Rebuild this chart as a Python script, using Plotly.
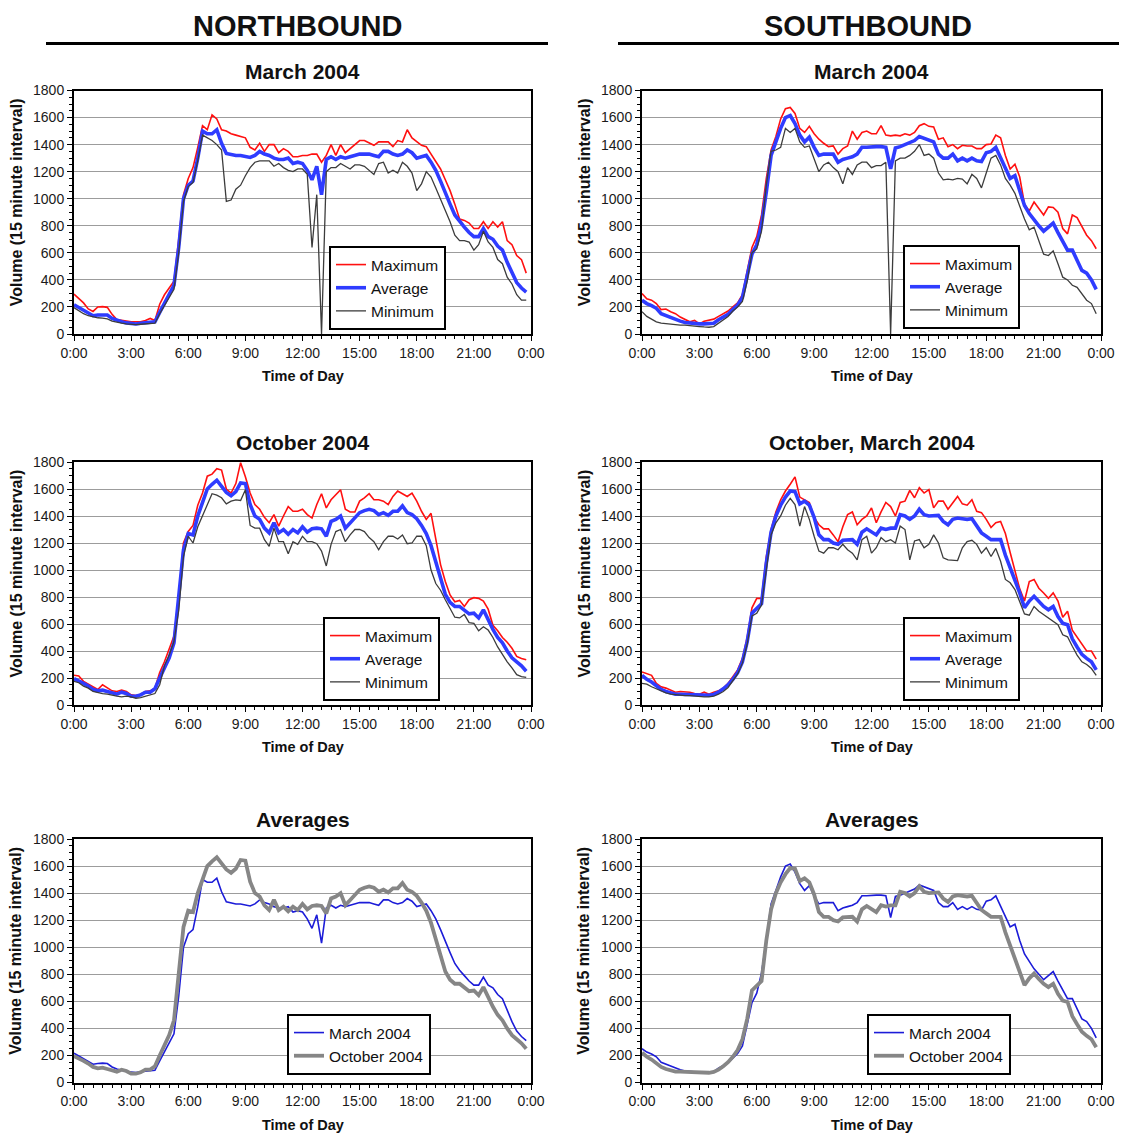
import plotly.graph_objects as go

# ---------------- data (15-minute intervals, 0:00 .. 23:45) ----------------
TIME_LABELS = ["%d:%02d" % (i // 4, (i % 4) * 15) for i in range(96)]
HOURS = [i * 0.25 for i in range(96)]

X_TICK_VALS = [0, 3, 6, 9, 12, 15, 18, 21, 24]
X_TICK_TEXT = ["0:00", "3:00", "6:00", "9:00", "12:00", "15:00", "18:00", "21:00", "0:00"]
Y_TICK_VALS = [0, 200, 400, 600, 800, 1000, 1200, 1400, 1600, 1800]

NB_MAR_MAX = [295, 265, 230, 185, 167, 200, 202, 197, 145, 106, 100, 98, 90, 90, 90, 100,
              115, 100, 220, 290, 340, 390, 700, 1030, 1150, 1230, 1380, 1540, 1510, 1620, 1590, 1510,
              1500, 1480, 1470, 1460, 1450, 1380, 1360, 1410, 1350, 1400, 1400, 1340, 1370, 1350, 1310, 1310,
              1320, 1320, 1330, 1330, 1270, 1320, 1400, 1320, 1400, 1340, 1370, 1400, 1430, 1430, 1410, 1395,
              1420, 1420, 1420, 1385, 1430, 1420, 1510, 1450, 1420, 1395, 1385, 1330, 1270, 1220, 1140, 1060,
              960, 850, 840, 820, 780, 780, 830, 780, 830, 790, 830, 690, 660, 580, 550, 450]
NB_MAR_AVG = [216, 195, 175, 155, 135, 140, 143, 140, 115, 100, 90, 82, 78, 74, 80, 85,
              90, 90, 160, 230, 300, 360, 640, 1000, 1100, 1130, 1300, 1500, 1480, 1480, 1510, 1410,
              1335, 1325, 1320, 1320, 1315, 1305, 1320, 1350, 1330, 1320, 1300, 1290, 1290, 1300, 1260, 1270,
              1260, 1210, 1140, 1240, 1030, 1290, 1310, 1290, 1310, 1300, 1310, 1320, 1330, 1330, 1330, 1320,
              1310, 1350, 1350, 1330, 1320, 1330, 1360, 1340, 1300, 1310, 1320, 1270, 1210, 1130, 1040, 960,
              880, 830, 790, 750, 720, 720, 780, 720, 700, 650, 620, 530, 450, 380, 340, 310]
NB_MAR_MIN = [195, 170, 150, 135, 125, 120, 118, 112, 95, 85, 80, 75, 70, 70, 72, 74,
              75, 80, 150, 215, 270, 330, 600, 980, 1090, 1120, 1280, 1470, 1450, 1430, 1400, 1360,
              980, 990, 1070, 1100, 1170, 1230, 1270, 1280, 1280, 1280, 1240, 1260, 1230, 1210, 1200, 1220,
              1220, 1180, 640, 1030, 0, 1200, 1230, 1230, 1260, 1240, 1220, 1250, 1250, 1240, 1210, 1180,
              1260, 1270, 1190, 1210, 1190, 1270, 1240, 1190, 1060, 1110, 1200, 1160, 1080, 1000, 920, 830,
              730, 690, 690, 680, 620, 660, 760, 680, 640, 550, 520, 420, 370, 290, 250, 250]

SB_MAR_MAX = [300, 260, 250, 225, 180, 185, 165, 150, 125, 105, 90, 100, 75, 95, 100, 110,
              130, 150, 170, 200, 230, 290, 470, 640, 720, 880, 1150, 1360, 1460, 1590, 1665, 1675,
              1630, 1520, 1490, 1535, 1480, 1440, 1410, 1385, 1390, 1330, 1370, 1390, 1500, 1440, 1490, 1500,
              1480, 1480, 1540, 1470, 1465, 1470, 1465, 1480, 1470, 1490, 1540, 1555, 1535, 1530, 1440, 1450,
              1385, 1400, 1370, 1395, 1390, 1390, 1370, 1370, 1400, 1405, 1470, 1450, 1320, 1220, 1255, 1160,
              960, 910, 975, 925, 880, 940, 935, 900, 780, 740, 880, 860, 790, 730, 690, 630]
SB_MAR_AVG = [250, 225, 210, 190, 150, 135, 120, 110, 95, 85, 80, 80, 75, 75, 75, 80,
              105, 125, 145, 180, 215, 270, 420, 590, 660, 810, 1050, 1320, 1420, 1520, 1600, 1615,
              1555, 1470, 1420, 1455, 1380, 1320, 1330, 1330, 1330, 1270, 1290, 1300, 1310, 1330, 1380, 1380,
              1385, 1385, 1385, 1380, 1220, 1375, 1385, 1400, 1410, 1430, 1460, 1445, 1430, 1420, 1330, 1300,
              1300, 1330, 1280, 1300, 1280, 1300, 1280, 1275, 1340, 1350, 1380, 1300, 1230, 1150, 1170, 1050,
              950, 890, 840, 800, 760, 790, 820, 750, 690, 620, 620, 540, 470, 450, 400, 330]
SB_MAR_MIN = [165, 130, 110, 90, 80, 75, 75, 70, 65, 65, 60, 60, 55, 52, 50, 55,
              80, 100, 130, 170, 200, 240, 390, 600, 630, 760, 1100, 1350, 1360, 1380, 1520, 1490,
              1520, 1420, 1380, 1390, 1300, 1200, 1250, 1270, 1230, 1200, 1110, 1230, 1180, 1250, 1270, 1270,
              1230, 1245, 1245, 1270, 0, 1280, 1300, 1300, 1320, 1350, 1400, 1320, 1330, 1300, 1190, 1140,
              1145, 1140, 1150, 1145, 1110, 1180, 1150, 1080, 1190, 1300, 1320, 1250, 1150, 1100, 1040, 940,
              850, 770, 790, 690, 590, 580, 615, 520, 420, 400, 360, 345, 300, 250, 225, 150]

NB_OCT_MAX = [220, 215, 175, 155, 130, 115, 150, 130, 105, 100, 110, 100, 75, 70, 80, 100,
              105, 125, 240, 320, 420, 510, 800, 1200, 1285, 1330, 1480, 1570, 1695, 1710, 1750, 1740,
              1600, 1570, 1640, 1795, 1690, 1570, 1485, 1450, 1390, 1350, 1410, 1325, 1400, 1470, 1435, 1435,
              1450, 1410, 1385, 1485, 1565, 1460, 1520, 1555, 1595, 1450, 1430, 1430, 1510, 1535, 1565, 1520,
              1520, 1510, 1485, 1545, 1585, 1565, 1545, 1570, 1510, 1435, 1375, 1420, 1240, 1040, 915, 815,
              765, 775, 730, 780, 795, 790, 770, 710, 590, 550, 500, 465, 420, 360, 345, 335]
NB_OCT_AVG = [195, 180, 160, 140, 115, 105, 110, 100, 90, 80, 95, 85, 65, 65, 75, 95,
              95, 120, 200, 280, 350, 460, 800, 1150, 1270, 1260, 1400, 1500, 1600, 1635, 1665, 1620,
              1575, 1550, 1580, 1645, 1640, 1485, 1400, 1375, 1310, 1275, 1350, 1275, 1300, 1265, 1300, 1275,
              1320, 1280, 1305, 1310, 1305, 1250, 1360, 1375, 1400, 1310, 1350, 1385, 1425, 1440, 1450, 1440,
              1410, 1425, 1405, 1435, 1435, 1475, 1425, 1410, 1380, 1330, 1270, 1180, 1060, 930, 820, 760,
              730, 730, 705, 675, 680, 645, 705, 630, 560, 500, 460, 400, 350, 320, 290, 250]
NB_OCT_MIN = [175, 165, 140, 125, 100, 90, 85, 80, 70, 65, 60, 65, 60, 50, 55, 65,
              80, 85, 150, 290, 370, 470, 700, 1100, 1250, 1200, 1320, 1400, 1485, 1565, 1555, 1535,
              1490, 1510, 1520, 1515, 1595, 1330, 1310, 1310, 1225, 1175, 1310, 1210, 1210, 1120, 1210, 1190,
              1250, 1210, 1210, 1195, 1140, 1030, 1190, 1285, 1300, 1210, 1260, 1300, 1300, 1285, 1240, 1210,
              1150, 1210, 1250, 1250, 1230, 1260, 1195, 1200, 1250, 1250, 1180, 1000, 900, 850, 780, 720,
              650, 645, 670, 610, 605, 550, 580, 555, 500, 430, 370, 320, 275, 225, 210, 205]

SB_OCT_MAX = [245, 235, 220, 160, 135, 125, 110, 95, 100, 100, 95, 85, 80, 95, 80, 95,
              105, 125, 160, 210, 260, 345, 500, 720, 790, 790, 1100, 1300, 1430, 1520, 1585, 1635,
              1690, 1540, 1520, 1500, 1390, 1335, 1305, 1305, 1260, 1210, 1320, 1410, 1430, 1335, 1375, 1400,
              1460, 1350, 1430, 1500, 1470, 1400, 1500, 1510, 1590, 1535, 1610, 1570, 1595, 1460, 1510, 1510,
              1450, 1500, 1545, 1490, 1480, 1520, 1435, 1425, 1375, 1315, 1350, 1360, 1270, 1130, 990, 860,
              770, 915, 930, 865, 830, 790, 830, 770, 650, 695, 555, 505, 450, 400, 400, 340]
SB_OCT_AVG = [220, 190, 170, 140, 115, 100, 90, 80, 80, 78, 75, 75, 70, 70, 72, 78,
              95, 120, 150, 190, 240, 320, 470, 680, 720, 750, 1050, 1280, 1400, 1480, 1540, 1585,
              1580, 1490, 1510, 1480, 1390, 1260, 1225, 1225, 1200, 1190, 1220, 1225, 1225, 1190, 1280, 1305,
              1285, 1260, 1310, 1300, 1310, 1310, 1410, 1400, 1375, 1400, 1450, 1410, 1400, 1400, 1405, 1360,
              1335, 1375, 1385, 1380, 1375, 1380, 1325, 1275, 1250, 1225, 1225, 1225, 1110, 1015, 930, 830,
              720, 770, 805, 765, 730, 705, 730, 655, 605, 595, 490, 430, 375, 345, 320, 260]
SB_OCT_MIN = [160, 155, 135, 120, 100, 90, 80, 75, 72, 70, 70, 65, 62, 60, 60, 65,
              80, 100, 130, 180, 230, 310, 450, 660, 680, 740, 1000, 1260, 1350, 1400, 1480, 1530,
              1485, 1325, 1470, 1375, 1250, 1140, 1125, 1165, 1165, 1150, 1190, 1150, 1125, 1075, 1225, 1250,
              1125, 1165, 1240, 1210, 1225, 1200, 1325, 1300, 1075, 1215, 1225, 1165, 1190, 1260, 1200, 1090,
              1075, 1075, 1070, 1165, 1210, 1220, 1190, 1125, 1165, 1100, 1160, 1065, 930, 905, 855, 765,
              675, 665, 730, 695, 670, 645, 620, 595, 520, 505, 435, 370, 320, 300, 270, 220]

# ---------------- styling ----------------
FONT = "Liberation Sans, Arial, Helvetica, sans-serif"
PAGE_W, PAGE_H = 1127, 1139
BODY_MARGIN = 8                      # default page margin around the plot div
W, H = PAGE_W - BODY_MARGIN, PAGE_H - BODY_MARGIN


def fx(px):
    """page pixel x -> paper fraction"""
    return (px - BODY_MARGIN) / W


def fy(py):
    """page pixel y -> paper fraction"""
    return 1 - (py - BODY_MARGIN) / H


STYLE = {
    "Maximum": dict(color="#ff1010", width=1.6),
    "Average": dict(color="#2f3cff", width=3.6),
    "Minimum": dict(color="#3c3c3c", width=1.3),
    "March 2004": dict(color="#1c1cd8", width=1.6),
    "October 2004": dict(color="#868686", width=3.8),
}

# page pixel boxes of plot areas: (left, right) and (top, bottom)
COLS = [(74, 531), (642, 1101)]
ROWS = [(90.5, 334), (462, 705), (839, 1082.5)]

PANELS = [
    dict(col=0, row=0, title="March 2004",
         series=[("Maximum", NB_MAR_MAX), ("Average", NB_MAR_AVG), ("Minimum", NB_MAR_MIN)],
         legend=(329, 246)),
    dict(col=1, row=0, title="March 2004",
         series=[("Maximum", SB_MAR_MAX), ("Average", SB_MAR_AVG), ("Minimum", SB_MAR_MIN)],
         legend=(903, 245)),
    dict(col=0, row=1, title="October 2004",
         series=[("Maximum", NB_OCT_MAX), ("Average", NB_OCT_AVG), ("Minimum", NB_OCT_MIN)],
         legend=(323, 617)),
    dict(col=1, row=1, title="October, March 2004",
         series=[("Maximum", SB_OCT_MAX), ("Average", SB_OCT_AVG), ("Minimum", SB_OCT_MIN)],
         legend=(903, 617)),
    dict(col=0, row=2, title="Averages",
         series=[("March 2004", NB_MAR_AVG), ("October 2004", NB_OCT_AVG)],
         legend=(287, 1014)),
    dict(col=1, row=2, title="Averages",
         series=[("March 2004", SB_MAR_AVG), ("October 2004", SB_OCT_AVG)],
         legend=(867, 1014)),
]

fig = go.Figure()
layout = dict(
    width=W, height=H,
    margin=dict(l=0, r=0, t=0, b=0, pad=0, autoexpand=False),
    paper_bgcolor="white", plot_bgcolor="white",
    font=dict(family=FONT, color="#111111"),
    showlegend=True,
)
annotations = []
shapes = []

for k, p in enumerate(PANELS, start=1):
    xl, xr = COLS[p["col"]]
    yt, yb = ROWS[p["row"]]
    xname = "xaxis" if k == 1 else "xaxis%d" % k
    yname = "yaxis" if k == 1 else "yaxis%d" % k
    xref = "x" if k == 1 else "x%d" % k
    yref = "y" if k == 1 else "y%d" % k
    legname = "legend" if k == 1 else "legend%d" % k

    layout[xname] = dict(
        domain=[fx(xl), fx(xr)], anchor=yref, range=[0, 24],
        tickmode="array", tickvals=X_TICK_VALS, ticktext=X_TICK_TEXT,
        ticks="outside", ticklen=5, tickwidth=1, tickcolor="black",
        minor=dict(tickmode="linear", tick0=0, dtick=0.5, ticks="outside", ticklen=3, tickcolor="black"),
        showline=True, linecolor="black", linewidth=2, mirror=True,
        showgrid=False, zeroline=False,
        tickfont=dict(family=FONT, size=14, color="#1a1a1a"),
    )
    layout[yname] = dict(
        domain=[fy(yb), fy(yt)], anchor=xref, range=[0, 1800],
        tickmode="array", tickvals=Y_TICK_VALS,
        ticks="outside", ticklen=5, tickwidth=1, tickcolor="black",
        minor=dict(tickmode="linear", tick0=0, dtick=50, ticks="outside", ticklen=3, tickcolor="black",
                   showgrid=False),
        showline=True, linecolor="black", linewidth=2, mirror=True,
        showgrid=True, gridcolor="#9c9c9c", gridwidth=1, zeroline=False,
        tickfont=dict(family=FONT, size=14, color="#1a1a1a"),
    )

    for name, values in p["series"]:
        st = STYLE[name]
        fig.add_trace(go.Scatter(
            x=HOURS, y=values, mode="lines", name=name,
            line=dict(color=st["color"], width=st["width"]),
            xaxis=xref, yaxis=yref, legend=legname,
            customdata=TIME_LABELS, hovertemplate="%{customdata}: %{y}<extra>" + name + "</extra>",
        ))

    lx, ly = p["legend"]
    layout[legname] = dict(
        x=fx(lx), y=fy(ly), xanchor="left", yanchor="top",
        bgcolor="white", bordercolor="black", borderwidth=2,
        font=dict(family=FONT, size=15.5, color="#111111"),
        itemwidth=30, tracegroupgap=0,
    )

    cx = (xl + xr) / 2
    # subplot title
    annotations.append(dict(
        text=p["title"], x=fx(cx), y=fy(yt - 19.5), xref="paper", yref="paper",
        xanchor="center", yanchor="middle", showarrow=False,
        font=dict(family=FONT, size=21, color="#111111", weight="bold"),
    ))
    # x axis title
    annotations.append(dict(
        text="Time of Day", x=fx(cx), y=fy(yb + 42), xref="paper", yref="paper",
        xanchor="center", yanchor="middle", showarrow=False,
        font=dict(family=FONT, size=14.5, color="#111111", weight="bold"),
    ))
    # y axis title
    annotations.append(dict(
        text="Volume (15 minute interval)", textangle=-90,
        x=fx(xl - 58), y=fy((yt + yb) / 2 - 10), xref="paper", yref="paper",
        xanchor="center", yanchor="middle", showarrow=False,
        font=dict(family=FONT, size=16, color="#111111", weight="bold"),
    ))

# column headers with underline (text box kept inside the figure)
for text, cx, (x0, x1) in [("NORTHBOUND", 297, (46, 548)), ("SOUTHBOUND", 868, (618, 1121))]:
    annotations.append(dict(
        text=text, x=fx(cx), y=1.0, xref="paper", yref="paper",
        xanchor="center", yanchor="top", showarrow=False,
        font=dict(family=FONT, size=29, color="#111111", weight="bold"),
    ))
    shapes.append(dict(type="line", xref="paper", yref="paper",
                       x0=fx(x0), x1=fx(x1), y0=fy(43.5), y1=fy(43.5),
                       line=dict(color="black", width=3)))

layout["annotations"] = annotations
layout["shapes"] = shapes
fig.update_layout(**layout)
fig.write_html("out.html")
